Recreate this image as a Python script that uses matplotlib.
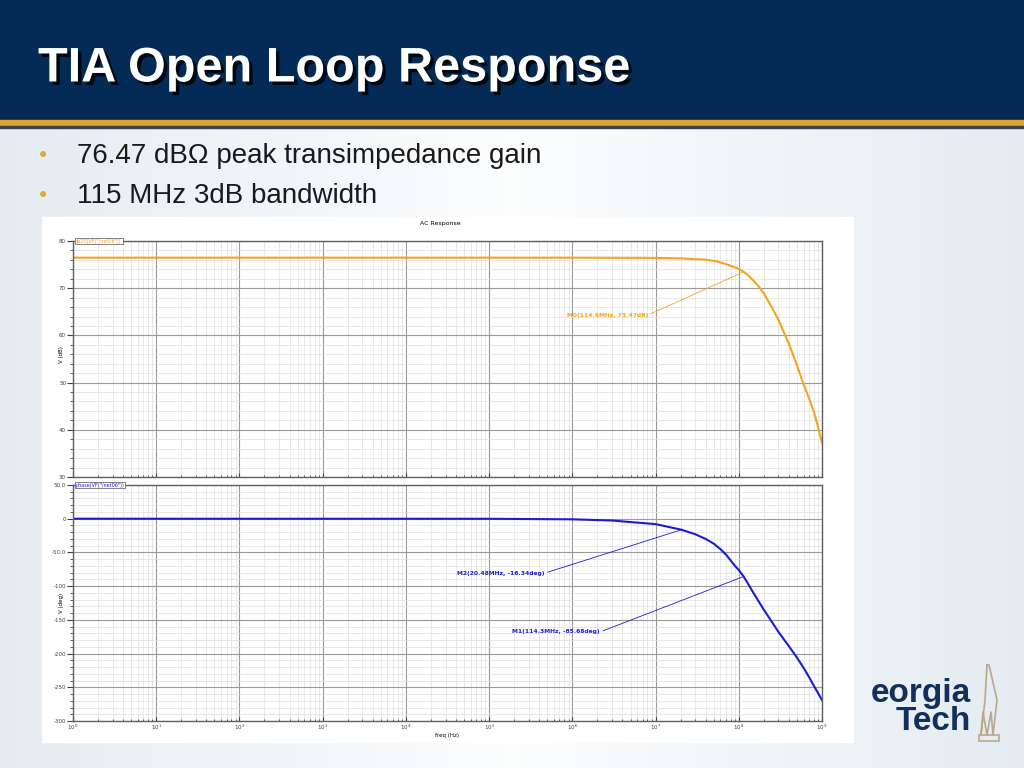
import numpy as np
import matplotlib.pyplot as plt
from matplotlib.patches import Rectangle
from matplotlib.ticker import LogFormatterSciNotation, MultipleLocator, FixedLocator, FixedFormatter, NullFormatter
import matplotlib.patheffects as pe

# magnitude trace
freq_mag = [1, 1e6, 1e7, 2e7, 4e7, 5.5e7, 7e7, 8.5e7, 1e8, 1.146e8, 1.3e8, 1.5e8, 1.75e8, 2e8, 2.5e8, 3e8,
            4e8, 5e8, 6e8, 7e8, 8e8, 9e8, 1e9]
mag_db = [76.47, 76.47, 76.42, 76.32, 76.05, 75.65, 75.1, 74.6, 74.1, 73.47, 72.7, 71.6, 70.3, 68.9, 65.9, 63.3,
          58.2, 53.7, 49.7, 46.6, 43.8, 40.5, 37.2]

# phase trace
freq_ph = [1, 1e5, 1e6, 3e6, 1e7, 2.048e7, 3e7, 4e7, 5e7, 6e7, 7e7, 8e7, 9e7, 1e8, 1.143e8, 1.3e8, 1.5e8,
           2e8, 2.5e8, 3e8, 4e8, 5e8, 6e8, 7e8, 8e8, 9e8, 1e9]
phase_deg = [0, -0.1, -0.9, -2.7, -8.0, -16.34, -23, -30, -37, -45, -53, -62, -70, -76, -85.68, -97, -110,
             -135, -153, -168, -189, -206, -221, -235, -248, -259, -269]

# markers
m0 = (1.146e8, 73.47)
m2 = (2.048e7, -16.34)
m1 = (1.143e8, -85.68)

bullets = ["76.47 dB\u03a9 peak transimpedance gain", "115 MHz 3dB bandwidth"]
decades = [10.0 ** k for k in range(10)]
ph_ticks = [50, 0, -50, -100, -150, -200, -250, -300]
ph_labels = ["50.0", "0", "-50.0", "-100", "-150", "-200", "-250", "-300"]

ORANGE = "#f2a51f"
BLUE = "#1c1cd6"
NAVY = "#042a56"

fig = plt.figure(figsize=(10.24, 7.68), dpi=100)

# slide background in pixel coords
bg = fig.add_axes([0, 0, 1, 1], zorder=0)
grad = np.linspace(0, 1, 256)
w = np.abs(grad - 0.5) * 2
edge = np.array([0.895, 0.925, 0.948])
mid = np.array([0.99, 0.993, 0.996])
img = mid[None, :] * (1 - w[:, None]) + edge[None, :] * w[:, None]
img = img[None, :, :]
bg.imshow(img, extent=[0, 1024, 768, 127], aspect="auto", zorder=0)
bg.set_xlim(0, 1024)
bg.set_ylim(768, 0)
bg.axis("off")
bg.add_patch(Rectangle((0, 0), 1024, 120, color=NAVY, zorder=1))
bg.add_patch(Rectangle((0, 120), 1024, 6, color="#d8a631", zorder=1))
bg.add_patch(Rectangle((0, 126), 1024, 2, color="#3b4350", zorder=1))

bg.text(38, 69, "TIA Open Loop Response", color="white", fontsize=35, fontweight="bold",
        family="Liberation Sans", va="center", ha="left", zorder=3,
        path_effects=[pe.withSimplePatchShadow(offset=(2.5, -2.5), shadow_rgbFace="black", alpha=0.8)])

for i, t in enumerate(bullets):
    y = 156 + 40 * i
    bg.text(37, y, "\u2022", color="#e0a82e", fontsize=15, va="center", ha="left", zorder=3)
    bg.text(77, y, t, color="#1a1a1a", fontsize=20, family="Liberation Sans", va="center", ha="left", zorder=3)

# white chart panel
bg.add_patch(Rectangle((42, 217), 811, 525, color="white", zorder=2))
bg.text(440, 223, "AC Response", fontsize=4.5, ha="center", va="center", zorder=3)
bg.text(62, 355, "V (dB)", fontsize=4, rotation=90, ha="center", va="center", zorder=3)
bg.text(62, 603, "V (deg)", fontsize=4, rotation=90, ha="center", va="center", zorder=3)
bg.text(447, 735, "freq (Hz)", fontsize=4, ha="center", va="center", zorder=3)

# logo
bg.text(971, 702, "eorgia", color="#13305c", fontsize=24, fontweight="bold", family="Liberation Sans",
        ha="right", va="baseline", zorder=3)
bg.text(971, 730, "Tech", color="#13305c", fontsize=24, fontweight="bold", family="Liberation Sans",
        ha="right", va="baseline", zorder=3)
tan = "#b9a98a"
bg.plot([987, 985, 981, 983, 987, 991, 993, 997, 989, 987], [665, 700, 735, 712, 735, 712, 735, 700, 665, 665],
        color=tan, lw=1.2, zorder=3)
bg.add_patch(Rectangle((979, 735), 20, 6, fill=False, ec=tan, lw=1.2, zorder=3))


def style_axes(ax):
    ax.set_xscale("log")
    ax.set_xlim(1, 1e9)
    ax.xaxis.set_major_locator(FixedLocator(decades))
    ax.xaxis.set_major_formatter(LogFormatterSciNotation())
    ax.xaxis.set_minor_locator(FixedLocator([d * s for d in decades[:-1] for s in range(2, 10)]))
    ax.xaxis.set_minor_formatter(NullFormatter())
    ax.grid(which="major", color="#9a9a9a", lw=0.8)
    ax.grid(which="minor", color="#dedede", lw=0.5)
    ax.set_axisbelow(True)
    for s in ax.spines.values():
        s.set_color("#606060")
        s.set_linewidth(1.0)
    ax.tick_params(which="both", labelsize=4, colors="#404040", pad=1)
    ax.tick_params(axis="y", which="major", length=4, direction="out")
    ax.tick_params(axis="y", which="minor", length=2, direction="out")
    ax.tick_params(axis="x", which="major", length=3, direction="in")
    ax.tick_params(axis="x", which="minor", length=1.5, direction="in")


ax1 = fig.add_axes([73 / 1024, 1 - 477 / 768, 749 / 1024, 236 / 768], zorder=2)
ax2 = fig.add_axes([73 / 1024, 1 - 721 / 768, 749 / 1024, 236 / 768], zorder=2)
for ax in (ax1, ax2):
    style_axes(ax)

ax1.plot(freq_mag, mag_db, color=ORANGE, lw=1.5)
ax1.set_ylim(30, 80)
ax1.yaxis.set_major_locator(MultipleLocator(10))
ax1.yaxis.set_minor_locator(MultipleLocator(2))
ax1.tick_params(axis="x", labelbottom=False)
ax1.annotate("M0(114.6MHz, 73.47dB)", xy=m0, xytext=(10 ** 5.93, 64.3), fontsize=4.3, fontweight="bold",
             color=ORANGE, va="center", ha="left",
             arrowprops=dict(arrowstyle="-", color=ORANGE, lw=0.6, relpos=(1, 0.5), shrinkA=0, shrinkB=0))
ax1.text(0.003, 1.0, 'db20(VF("/net06"))', transform=ax1.transAxes, fontsize=3.5, color=ORANGE, va="center",
         bbox=dict(boxstyle="square,pad=0.15", fc="white", ec="#505050", lw=0.5))

ax2.plot(freq_ph, phase_deg, color=BLUE, lw=1.5)
ax2.set_ylim(-300, 50)
ax2.yaxis.set_major_locator(FixedLocator(ph_ticks))
ax2.yaxis.set_major_formatter(FixedFormatter(ph_labels))
ax2.yaxis.set_minor_locator(MultipleLocator(10))
ax2.annotate("M2(20.48MHz, -16.34deg)", xy=m2, xytext=(10 ** 4.62, -80.6), fontsize=4.3, fontweight="bold",
             color=BLUE, va="center", ha="left",
             arrowprops=dict(arrowstyle="-", color=BLUE, lw=0.6, relpos=(1, 0.5), shrinkA=0, shrinkB=0))
ax2.annotate("M1(114.3MHz, -85.68deg)", xy=m1, xytext=(10 ** 5.28, -168), fontsize=4.3, fontweight="bold",
             color=BLUE, va="center", ha="left",
             arrowprops=dict(arrowstyle="-", color=BLUE, lw=0.6, relpos=(1, 0.5), shrinkA=0, shrinkB=0))
ax2.text(0.003, 1.0, 'phase(VF("/net06"))', transform=ax2.transAxes, fontsize=3.5, color=BLUE, va="center",
         bbox=dict(boxstyle="square,pad=0.15", fc="white", ec="#505050", lw=0.5))

fig.savefig("out.png", dpi=100)
